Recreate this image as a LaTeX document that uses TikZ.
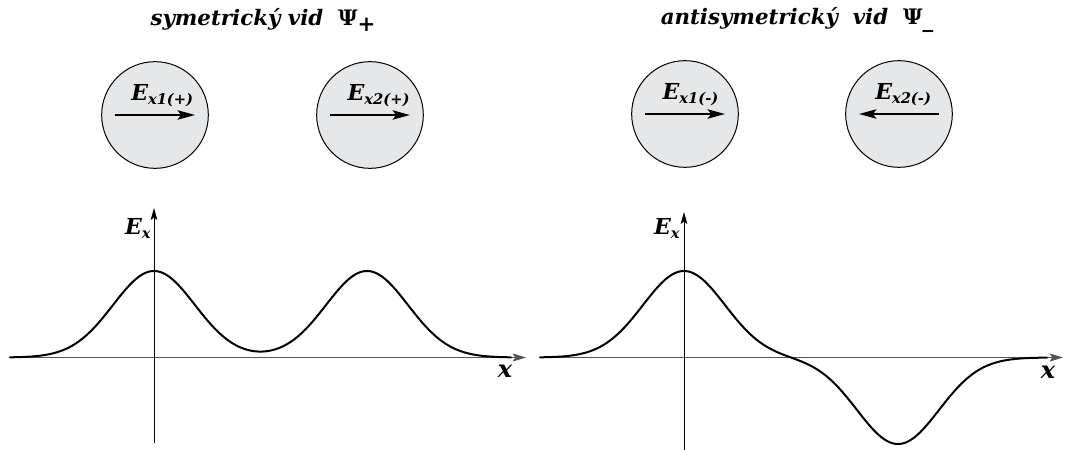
\documentclass[tikz,border=0pt]{standalone}
\usepackage{fontspec}
\setmainfont{DejaVu Serif}
\usetikzlibrary{arrows.meta}
\definecolor{cfill}{HTML}{E6E7E8}
\definecolor{axgray}{HTML}{555555}
\begin{document}
\begin{tikzpicture}[x=0.75pt,y=-0.75pt,
  lbl/.style={font=\bfseries\itshape, inner sep=0pt},
  title/.style={lbl, font=\fontsize{16}{18}\selectfont\bfseries\itshape},
  xlab/.style={lbl, font=\fontsize{18}{18}\selectfont\bfseries\itshape},
  haxis/.style={line width=0.8pt, draw=axgray, -{Stealth[length=10pt,width=6pt,inset=2pt]}},
  vaxis/.style={line width=0.7pt, -{Stealth[length=9pt,width=5pt,inset=2pt]}},
  curve/.style={line width=1.5pt, line join=round, line cap=round},
  atom/.style={circle, draw, line width=0.75pt, fill=cfill, minimum size=80pt, inner sep=0pt},
  field/.style={line width=1.6pt, -{Stealth[length=13pt,width=7pt,inset=2.5pt]}},
  declare function={g(\t)=exp(-0.5*\t*\t);}
]
\useasboundingbox (0,0) rectangle (1065,450);

% titles
\node[title] (t1) at (263,20)
  {symetrický vid\ \ {\upshape Ψ}\raisebox{-4pt}{\upshape +}};
\node[title] (t2) at (797,20)
  {antisymetrický\ \ vid\ \ {\upshape Ψ}\raisebox{-2pt}{\upshape \_}};

% circles
\node[atom] (c1) at (155,115) {};
\node[atom] (c2) at (370,115) {};
\node[atom] (c3) at (685,114) {};
\node[atom] (c4) at (899,114) {};

% field arrows
\foreach \c in {c1,c2,c3}{
  \coordinate (\c s) at ([xshift=-30pt]\c.center);
  \coordinate (\c e) at ([xshift=30pt]\c.center);
  \draw[field] (\c s) -- (\c e);
}
\coordinate (c4s) at ([xshift=30pt]c4.center);
\coordinate (c4e) at ([xshift=-30pt]c4.center);
\draw[field] (c4s) -- (c4e);

% field labels
\newcommand{\Elab}[1]{{\fontsize{16.5}{16}\selectfont E}{\fontsize{11}{11}\selectfont\raisebox{-3pt}{#1}}}
\node[lbl, anchor=base west] (l1) at ([xshift=-18pt,yshift=11pt]c1.center) {\Elab{x1(+)}};
\node[lbl, anchor=base west] (l2) at ([xshift=-17pt,yshift=11pt]c2.center) {\Elab{x2(+)}};
\node[lbl, anchor=base west] (l3) at ([xshift=-17pt,yshift=11pt]c3.center) {\Elab{x1(-)}};
\node[lbl, anchor=base west] (l4) at ([xshift=-18pt,yshift=11pt]c4.center) {\Elab{x2(-)}};

% left graph axes
\coordinate (lh0) at (10,357.5);
\coordinate (lh1) at (526,357.5);
\coordinate (lv0) at (154,443);
\coordinate (lv1) at (154,208);
\draw[haxis] (lh0) -- (lh1);
\draw[vaxis] (lv0) -- (lv1);
\node[lbl, anchor=base east] (ey1) at (151,234) {\Elab{x}};
\node[xlab] (xl1) at (505,371) {x};

% right graph axes
\coordinate (rh0) at (540,357.5);
\coordinate (rh1) at (1063,357.5);
\coordinate (rv0) at (684,450);
\coordinate (rv1) at (684,212);
\draw[haxis] (rh0) -- (rh1);
\draw[vaxis] (rv0) -- (rv1);
\node[lbl, anchor=base east] (ey2) at (680,234) {\Elab{x}};
\node[xlab] (xl2) at (1048,372) {x};

% curves
\draw[curve] plot[domain=10:511, samples=220, smooth]
  (\x, {357.5 - 86.5*(g((\x-154)/41) + g((\x-367)/41))});
\draw[curve] plot[domain=540:1047, samples=220, smooth]
  (\x, {357.5 - 86.5*(g((\x-684)/41) - g((\x-898)/41))});
\end{tikzpicture}
\end{document}
